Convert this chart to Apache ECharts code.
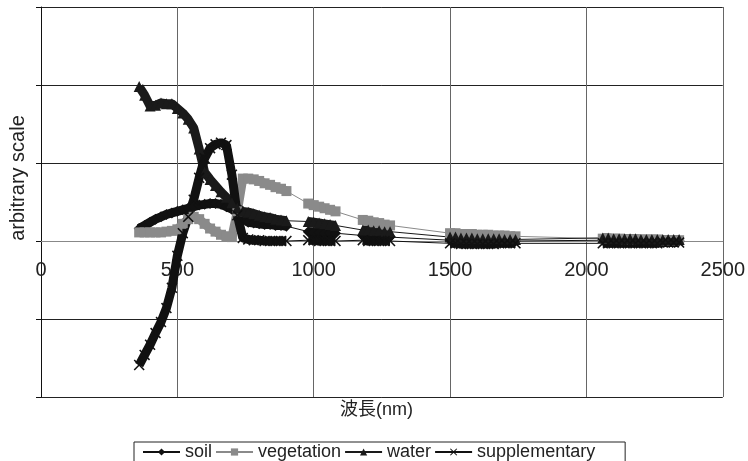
<!DOCTYPE html>
<html>
<head>
<meta charset="utf-8">
<script src="https://cdn.jsdelivr.net/npm/echarts@6/dist/echarts.min.js"></script>
<style>
  html, body { margin: 0; padding: 0; background: #fff; }
  #chart { width: 748px; height: 461px; }
</style>
</head>
<body>
<div id="chart"></div>
<script>
// wavelength (nm) - the water absorption bands are left out
var wavelengths = [
  360, 380, 400, 420, 440, 460, 480, 500, 520, 540, 560, 580, 600, 620,
  640, 660, 680, 700, 720, 740, 760, 780, 800, 820, 840, 860, 880, 900,
  980, 1000, 1020, 1040, 1060, 1080,
  1180, 1200, 1220, 1240, 1260, 1280,
  1500, 1520, 1540, 1560, 1580, 1600, 1620, 1640, 1660, 1680, 1700, 1720, 1740,
  2060, 2080, 2100, 2120, 2140, 2160, 2180, 2200, 2220, 2240, 2260, 2280, 2300, 2320, 2340
];

var soil = [
  0.16, 0.20, 0.24, 0.28, 0.31, 0.34, 0.36, 0.38, 0.40, 0.42, 0.44, 0.46, 0.47, 0.48,
  0.48, 0.47, 0.44, 0.41, 0.36, 0.30, 0.24, 0.23, 0.22, 0.21, 0.21, 0.20, 0.20, 0.19,
  0.12, 0.11, 0.11, 0.10, 0.10, 0.10,
  0.07, 0.07, 0.06, 0.06, 0.06, 0.05,
  0.01, 0.01, 0.01, 0.01, 0.00, 0.00, 0.00, 0.00, 0.00, 0.00, 0.00, 0.00, 0.00,
  0.01, 0.01, 0.01, 0.00, 0.00, 0.00, 0.00, 0.00, 0.00, 0.00, 0.00, 0.00, 0.00, 0.00, 0.00
];

var vegetation = [
  0.11, 0.11, 0.11, 0.11, 0.11, 0.12, 0.13, 0.15, 0.22, 0.28, 0.31, 0.28, 0.22, 0.16,
  0.12, 0.08, 0.06, 0.05, 0.38, 0.80, 0.80, 0.79, 0.77, 0.74, 0.72, 0.69, 0.67, 0.64,
  0.48, 0.46, 0.44, 0.42, 0.40, 0.38,
  0.27, 0.26, 0.24, 0.23, 0.21, 0.20,
  0.10, 0.10, 0.09, 0.09, 0.09, 0.08, 0.08, 0.08, 0.07, 0.07, 0.07, 0.06, 0.06,
  0.03, 0.03, 0.03, 0.03, 0.02, 0.02, 0.02, 0.02, 0.02, 0.02, 0.02, 0.01, 0.01, 0.01, 0.01
];

var water = [
  1.98, 1.87, 1.73, 1.74, 1.77, 1.76, 1.76, 1.70, 1.64, 1.56, 1.45, 1.18, 0.88, 0.79,
  0.71, 0.63, 0.56, 0.49, 0.42, 0.38, 0.37, 0.35, 0.33, 0.31, 0.30, 0.28, 0.27, 0.26,
  0.25, 0.24, 0.23, 0.22, 0.21, 0.20,
  0.14, 0.14, 0.13, 0.13, 0.12, 0.12,
  0.05, 0.05, 0.04, 0.04, 0.04, 0.03, 0.03, 0.03, 0.03, 0.03, 0.02, 0.02, 0.02,
  0.04, 0.04, 0.03, 0.03, 0.03, 0.03, 0.03, 0.02, 0.02, 0.02, 0.02, 0.02, 0.02, 0.02, 0.02
];

var supplementary = [
  -1.59, -1.46, -1.33, -1.18, -1.04, -0.86, -0.60, -0.19, 0.10, 0.31, 0.53, 0.81, 1.06, 1.19,
  1.24, 1.26, 1.23, 0.85, 0.33, 0.04, 0.02, 0.01, 0.01, 0.00, 0.00, 0.00, 0.00, 0.00,
  0.01, 0.01, 0.00, 0.00, 0.00, 0.00,
  0.01, 0.00, 0.00, 0.00, 0.00, 0.00,
  -0.03, -0.03, -0.04, -0.04, -0.04, -0.04, -0.04, -0.04, -0.04, -0.03, -0.03, -0.03, -0.03,
  -0.03, -0.03, -0.03, -0.03, -0.03, -0.03, -0.03, -0.03, -0.03, -0.03, -0.03, -0.02, -0.02, -0.02, -0.02
];

var xTicks = [0, 500, 1000, 1500, 2000, 2500];
var yMin = -2, yMax = 3;

var FONT = "'Liberation Sans', 'Noto Sans CJK JP', sans-serif";
var CROSS = "path://M0,1L1,0L5,4L9,0L10,1L6,5L10,9L9,10L5,6L1,10L0,9L4,5Z";

var gridTop = 7, gridBottom = 64, chartH = 461;

function points(vals) {
  return wavelengths.map(function (w, i) { return [w, vals[i]]; });
}

// same points, but broken at the gaps so the thick band only covers measured ranges
function bandPoints(vals) {
  var out = [];
  for (var i = 0; i < wavelengths.length; i++) {
    if (i > 0 && wavelengths[i] - wavelengths[i - 1] > 30) {
      out.push([(wavelengths[i] + wavelengths[i - 1]) / 2, '-']);
    }
    out.push([wavelengths[i], vals[i]]);
  }
  return out;
}

function makeSeries(name, vals, color, symbol, size) {
  return [
    {
      name: name + '_band',
      type: 'line',
      data: bandPoints(vals),
      showSymbol: false,
      connectNulls: false,
      lineStyle: { color: color, width: 9 },
      itemStyle: { color: color },
      silent: true
    },
    {
      name: name,
      type: 'line',
      data: points(vals),
      symbol: symbol,
      symbolSize: size,
      showAllSymbol: true,
      lineStyle: { color: color, width: 1 },
      itemStyle: { color: color }
    }
  ];
}

var chart = echarts.init(document.getElementById('chart'));

var series = [].concat(
  makeSeries('soil', soil, '#111', 'diamond', 11),
  makeSeries('vegetation', vegetation, '#8a8a8a', 'rect', 10),
  makeSeries('water', water, '#1a1a1a', 'triangle', 11),
  makeSeries('supplementary', supplementary, '#111', CROSS, 11)
);

// x axis sits on the zero line, labels just under it
var plotH = chartH - gridTop - gridBottom;
var zeroOffset = -plotH * (0 - yMin) / (yMax - yMin);

var option = {
  backgroundColor: '#fff',
  animation: false,
  grid: { left: 41, right: 20, top: gridTop, bottom: gridBottom },
  xAxis: {
    type: 'value',
    min: xTicks[0],
    max: xTicks[xTicks.length - 1],
    interval: 500,
    offset: zeroOffset,
    axisLine: { onZero: false, lineStyle: { color: '#888', width: 1 } },
    axisTick: { show: false },
    axisLabel: {
      fontSize: 20, color: '#222', fontFamily: FONT, margin: 19,
      formatter: function (v) { return String(v); }
    },
    splitLine: { show: true, lineStyle: { color: '#666', width: 1 } }
  },
  yAxis: {
    type: 'value',
    min: yMin,
    max: yMax,
    interval: 1,
    axisLine: { show: true, onZero: false, lineStyle: { color: '#111', width: 1 } },
    axisTick: { show: true, length: 5, lineStyle: { color: '#111' } },
    axisLabel: { show: false },
    splitLine: { show: true, lineStyle: { color: '#222', width: 1 } }
  },
  legend: {
    data: ['soil', 'vegetation', 'water', 'supplementary'],
    left: 134,
    top: 442,
    padding: [1, 30, 10, 8],
    itemGap: 3,
    itemWidth: 37,
    itemHeight: 9,
    borderColor: '#222',
    borderWidth: 1,
    textStyle: { fontSize: 18, color: '#222', fontFamily: FONT }
  },
  graphic: [
    {
      type: 'text',
      left: 340,
      top: 401,
      style: { text: '波長(nm)', fontSize: 18, fill: '#222', fontFamily: FONT }
    },
    {
      type: 'text',
      x: 18,
      y: 178,
      rotation: Math.PI / 2,
      style: {
        text: 'arbitrary scale', fontSize: 20, fill: '#222', fontFamily: FONT,
        align: 'center', verticalAlign: 'middle'
      }
    }
  ],
  series: series
};

chart.setOption(option);
</script>
</body>
</html>
